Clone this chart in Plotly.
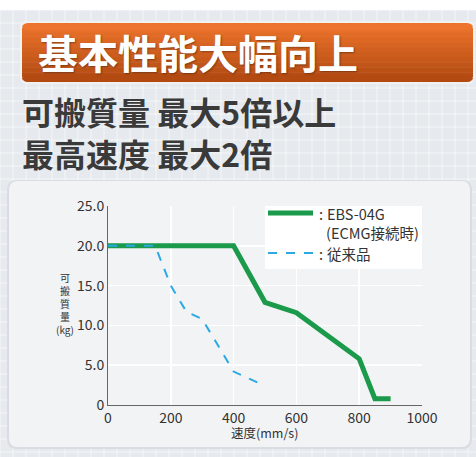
import plotly.graph_objects as go

# ---- data ----
speed_new = [0, 400, 500, 600, 800, 850, 900]
load_new = [20.0, 20.0, 12.9, 11.6, 5.8, 0.8, 0.8]
speed_old = [0, 150, 200, 250, 300, 400, 500]
load_old = [20.0, 20.0, 15.0, 11.7, 10.8, 4.2, 2.4]
x_ticks = [0, 200, 400, 600, 800, 1000]
y_ticks = [0, 5, 10, 15, 20, 25]
y_tick_text = ["0", "5.0", "10.0", "15.0", "20.0", "25.0"]
name_new_1 = "EBS-04G"
name_new_2 = "(ECMG接続時)"
name_old = "従来品"
y_title_chars = ["可", "搬", "質", "量", "(kg)"]
x_title = "速度(mm/s)"
title_text = "基本性能大幅向上"
sub1 = "可搬質量 最大5倍以上"
sub2 = "最高速度 最大2倍"

GREEN = "#1a9a4a"
BLUE = "#2aa9e3"

W, H = 476, 457
L, R, T, B = 108, 54, 206, 52
PW, PH = W - L - R, H - T - B

def px(x):
    return (x - L) / PW

def py(y):
    return (H - B - y) / PH

FONT = "Noto Sans CJK JP"

fig = go.Figure()
fig.add_trace(go.Scatter(x=speed_new, y=load_new, mode="lines", name=name_new_1,
                         line=dict(color=GREEN, width=5), hoverinfo="skip"))
fig.add_trace(go.Scatter(x=speed_old, y=load_old, mode="lines", name=name_old,
                         line=dict(color=BLUE, width=2, dash="dash"), hoverinfo="skip"))

shapes = []
# page background grid pattern
for gx in range(0, W, 13):
    shapes.append(dict(type="line", xref="paper", yref="paper", x0=px(gx), x1=px(gx),
                       y0=py(10), y1=py(H), line=dict(color="rgba(255,255,255,0.55)", width=1), layer="below"))
for gy in range(10, H, 13):
    shapes.append(dict(type="line", xref="paper", yref="paper", x0=px(0), x1=px(W),
                       y0=py(gy), y1=py(gy), line=dict(color="rgba(255,255,255,0.55)", width=1), layer="below"))

def rrect(x0, y0, x1, y1, r):
    return (f"M{px(x0+r)},{py(y0)} L{px(x1-r)},{py(y0)} Q{px(x1)},{py(y0)} {px(x1)},{py(y0+r)} "
            f"L{px(x1)},{py(y1-r)} Q{px(x1)},{py(y1)} {px(x1-r)},{py(y1)} "
            f"L{px(x0+r)},{py(y1)} Q{px(x0)},{py(y1)} {px(x0)},{py(y1-r)} "
            f"L{px(x0)},{py(y0+r)} Q{px(x0)},{py(y0)} {px(x0+r)},{py(y0)} Z")

# white top strip
shapes.append(dict(type="rect", xref="paper", yref="paper", x0=px(0), x1=px(W), y0=py(0), y1=py(10),
                   fillcolor="white", line=dict(width=0), layer="below"))
# chart panel
shapes.append(dict(type="path", xref="paper", yref="paper", path=rrect(7, 180, 472, 449, 10),
                   fillcolor="#d9dde3", line=dict(width=0), layer="below"))
shapes.append(dict(type="path", xref="paper", yref="paper", path=rrect(9, 181, 470, 447, 9),
                   fillcolor="#f2f3f5", line=dict(width=0), layer="below"))
# orange title box with gradient
shapes.append(dict(type="path", xref="paper", yref="paper", path=rrect(20, 21, 475, 84, 7),
                   fillcolor="#f2f2f2", line=dict(width=0), layer="below"))
top_c = (236, 116, 44)
bot_c = (178, 74, 18)
n = 12
y0b, y1b = 23, 82
for i in range(n):
    t = i / (n - 1)
    c = tuple(int(top_c[k] + (bot_c[k] - top_c[k]) * t) for k in range(3))
    ya = y0b + (y1b - y0b) * i / n
    yb = y0b + (y1b - y0b) * (i + 1) / n
    if i == 0 or i == n - 1:
        continue
    shapes.append(dict(type="rect", xref="paper", yref="paper", x0=px(22), x1=px(473), y0=py(ya), y1=py(yb + 0.5),
                       fillcolor=f"rgb{c}", line=dict(width=0), layer="below"))
shapes.append(dict(type="path", xref="paper", yref="paper", path=rrect(22, 23, 473, 30, 6),
                   fillcolor=f"rgb{top_c}", line=dict(width=0), layer="below"))
shapes.append(dict(type="path", xref="paper", yref="paper", path=rrect(22, 75, 473, 82, 6),
                   fillcolor=f"rgb{bot_c}", line=dict(width=0), layer="below"))

# legend box (drawn above the plot area)
shapes.append(dict(type="rect", xref="paper", yref="paper", x0=px(265), x1=px(422), y0=py(206), y1=py(269),
                   fillcolor="white", line=dict(width=0), layer="above"))
shapes.append(dict(type="line", xref="paper", yref="paper", x0=px(268), x1=px(313), y0=py(213), y1=py(213),
                   line=dict(color=GREEN, width=5), layer="above"))
shapes.append(dict(type="line", xref="paper", yref="paper", x0=px(268), x1=px(313), y0=py(253), y1=py(253),
                   line=dict(color=BLUE, width=2, dash="dash"), layer="above"))

leg_font = dict(family=FONT, size=14.5, color="#333")
annotations = [
    dict(text=title_text, xref="paper", yref="paper", x=px(36), y=py(52), xanchor="left", yanchor="middle",
         showarrow=False, font=dict(family=FONT, size=40, color="white", weight="bold",
                                    shadow="1px 1px 2px rgba(0,0,0,0.35)")),
    dict(text=sub1, xref="paper", yref="paper", x=px(20), y=py(111), xanchor="left", yanchor="middle",
         showarrow=False, font=dict(family=FONT, size=32, color="#3a3a3a", weight="bold")),
    dict(text=sub2, xref="paper", yref="paper", x=px(20), y=py(153), xanchor="left", yanchor="middle",
         showarrow=False, font=dict(family=FONT, size=32, color="#3a3a3a", weight="bold")),
    dict(text=x_title, xref="paper", yref="paper", x=px(264), y=py(432), xanchor="center", yanchor="middle",
         showarrow=False, font=dict(family=FONT, size=12.5, color="#333")),
    dict(text=":", xref="paper", yref="paper", x=px(317), y=py(213), xanchor="left", yanchor="middle",
         showarrow=False, font=leg_font),
    dict(text=name_new_1, xref="paper", yref="paper", x=px(325), y=py(213), xanchor="left", yanchor="middle",
         showarrow=False, font=leg_font),
    dict(text=name_new_2, xref="paper", yref="paper", x=px(324), y=py(232), xanchor="left", yanchor="middle",
         showarrow=False, font=leg_font),
    dict(text=":", xref="paper", yref="paper", x=px(317), y=py(253), xanchor="left", yanchor="middle",
         showarrow=False, font=leg_font),
    dict(text=name_old, xref="paper", yref="paper", x=px(325), y=py(253), xanchor="left", yanchor="middle",
         showarrow=False, font=leg_font),
    dict(text="<br>".join(y_title_chars), xref="paper", yref="paper", x=px(65), y=py(303), xanchor="center",
         yanchor="middle", showarrow=False, borderpad=0,
         font=dict(family=FONT, size=10, color="#333")),
]

fig.update_layout(
    width=W, height=H,
    margin=dict(l=L, r=R, t=T, b=B),
    paper_bgcolor="#e6eaee",
    plot_bgcolor="#ccd3de",
    shapes=shapes,
    annotations=annotations,
    font=dict(family=FONT, size=13, color="#333"),
    showlegend=False,
    hovermode=False,
    xaxis=dict(range=[0, 1000], tickvals=x_ticks, showgrid=True, gridcolor="white", gridwidth=1.5,
               showline=True, linecolor="#666", linewidth=1, zeroline=False, ticks="",
               tickfont=dict(size=14, color="#333")),
    yaxis=dict(range=[0, 25], tickvals=y_ticks, ticktext=y_tick_text, showgrid=True, gridcolor="white",
               gridwidth=1.5, showline=True, linecolor="#666", linewidth=1, zeroline=False, ticks="",
               tickfont=dict(size=14, color="#333")),
)

fig.write_html("out.html", config={"displayModeBar": False, "staticPlot": True},
               post_script="document.body.style.margin='0';document.body.style.overflow='hidden';")
